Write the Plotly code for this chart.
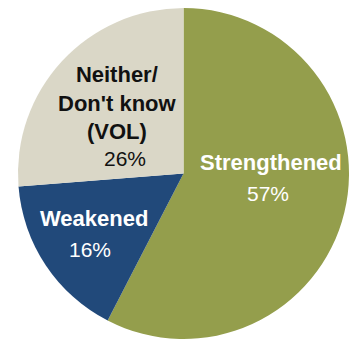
import plotly.graph_objects as go

# Survey answer shares (percent)
categories = ["Strengthened", "Weakened", "Neither/<br>Don't know<br>(VOL)"]
values = [57, 16, 26]
colors = ["#949E4C", "#21497A", "#DAD7C7"]
text_colors = ["white", "white", "#111111"]

W, H = 349, 341

# Where each label block and its percentage sit (pixel centres)
label_pos = [(271, 162), (94, 218), (117, 103)]
value_pos = [(268, 193), (90, 249), (125, 158)]

fig = go.Figure(
    go.Pie(
        labels=categories,
        values=values,
        sort=False,
        direction="clockwise",
        rotation=0,
        marker=dict(colors=colors, line=dict(width=0)),
        textinfo="none",
        hoverinfo="label+value",
        showlegend=False,
        domain=dict(x=[18 / W, 1.0], y=[1 / H, 334 / H]),
    )
)


def px(x, y):
    return x / W, 1 - y / H


annotations = []
for cat, val, col, (lx, ly), (vx, vy) in zip(categories, values, text_colors, label_pos, value_pos):
    ax, ay = px(lx, ly)
    annotations.append(dict(
        x=ax, y=ay, xref="paper", yref="paper", xanchor="center", yanchor="middle",
        text=f"<b>{cat}</b>", showarrow=False,
        font=dict(family="Liberation Sans, Arial, sans-serif", size=22, color=col),
    ))
    bx, by = px(vx, vy)
    annotations.append(dict(
        x=bx, y=by, xref="paper", yref="paper", xanchor="center", yanchor="middle",
        text=f"{val}%", showarrow=False,
        font=dict(family="Liberation Sans, Arial, sans-serif", size=21, color=col),
    ))

fig.update_layout(
    width=W, height=H,
    margin=dict(l=0, r=0, t=0, b=0),
    paper_bgcolor="white",
    plot_bgcolor="white",
    annotations=annotations,
)

fig.write_html("out.html")
